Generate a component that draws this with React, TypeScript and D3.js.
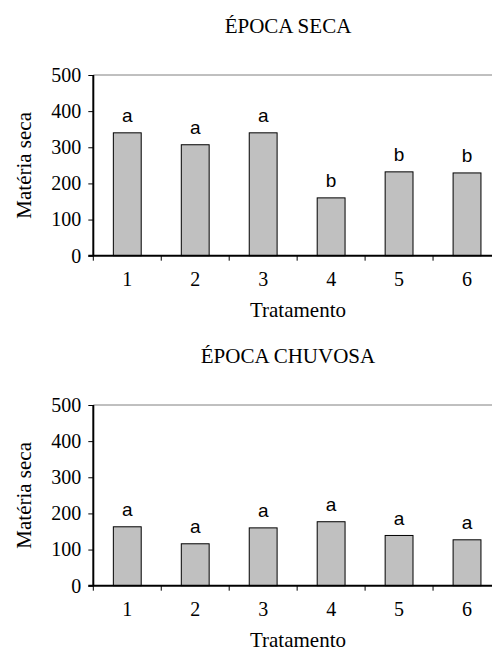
import React, { useRef, useEffect } from 'react';
import * as d3 from 'd3';

const treatments = ['1', '2', '3', '4', '5', '6'];
const dryValues = [340, 307, 340, 160, 232, 229];
const dryLetters = ['a', 'a', 'a', 'b', 'b', 'b'];
const wetValues = [163, 116, 160, 177, 139, 127];
const wetLetters = ['a', 'a', 'a', 'a', 'a', 'a'];
const yTicks = [0, 100, 200, 300, 400, 500];

const panels = [
  { title: 'ÉPOCA SECA', values: dryValues, letters: dryLetters },
  { title: 'ÉPOCA CHUVOSA', values: wetValues, letters: wetLetters },
];

const serif = '"Liberation Serif", "Times New Roman", serif';
const sans = '"Liberation Sans", Arial, sans-serif';

const App = () => {
  const svgRef = useRef<SVGSVGElement>(null);

  useEffect(() => {
    const root = d3.select(svgRef.current);
    root.selectAll('*').remove();

    const left = 93.3;
    const right = 501;
    const plotTop = 75;
    const plotBottom = 255.7;

    panels.forEach((p, i) => {
      const g = root.append('g').attr('transform', `translate(0,${i * 330})`);

      const x = d3.scaleBand()
        .domain(treatments)
        .range([left, right])
        .paddingInner(0.59)
        .paddingOuter(0.295);

      const y = d3.scaleLinear().domain([0, 500]).range([plotBottom, plotTop]);

      // title
      g.append('text')
        .attr('x', 288)
        .attr('y', 33.3)
        .attr('text-anchor', 'middle')
        .style('font-family', serif)
        .style('font-size', '21px')
        .text(p.title);

      // top gray line at 500
      g.append('line')
        .attr('x1', left).attr('x2', right)
        .attr('y1', y(500)).attr('y2', y(500))
        .attr('stroke', '#808080')
        .attr('stroke-width', 1);

      // bars
      g.selectAll('.bar')
        .data(p.values)
        .enter().append('rect')
        .attr('class', 'bar')
        .attr('x', (d, j) => x(treatments[j]))
        .attr('width', x.bandwidth())
        .attr('y', d => y(d))
        .attr('height', d => y(0) - y(d))
        .attr('fill', '#c0c0c0')
        .attr('stroke', '#000')
        .attr('stroke-width', 1);

      // letters
      g.selectAll('.lbl')
        .data(p.values)
        .enter().append('text')
        .attr('class', 'lbl')
        .attr('x', (d, j) => x(treatments[j]) + x.bandwidth() / 2)
        .attr('y', d => y(d) - 10.5)
        .attr('text-anchor', 'middle')
        .style('font-family', sans)
        .style('font-size', '19px')
        .text((d, j) => p.letters[j]);

      // y axis
      const yAxis = g.append('g')
        .attr('transform', `translate(${left},0)`)
        .call(d3.axisLeft(y).tickValues(yTicks).tickSize(5).tickPadding(7));
      yAxis.select('.domain').remove();
      yAxis.selectAll('.tick line').attr('stroke', '#000');
      yAxis.selectAll('.tick text')
        .style('font-family', serif)
        .style('font-size', '20px')
        .attr('fill', '#000');
      g.append('line')
        .attr('x1', left).attr('x2', left)
        .attr('y1', plotTop).attr('y2', plotBottom)
        .attr('stroke', '#000').attr('stroke-width', 2);

      // x axis: ticks at category boundaries
      const boundaries = d3.range(treatments.length).map(j => x(treatments[j]) - x.step() * x.paddingOuter());
      g.selectAll('.xtick')
        .data(boundaries)
        .enter().append('line')
        .attr('class', 'xtick')
        .attr('x1', d => d).attr('x2', d => d)
        .attr('y1', plotBottom).attr('y2', plotBottom + 5)
        .attr('stroke', '#000');
      g.append('line')
        .attr('x1', left - 5).attr('x2', right)
        .attr('y1', plotBottom).attr('y2', plotBottom)
        .attr('stroke', '#000').attr('stroke-width', 2);

      g.selectAll('.xlbl')
        .data(treatments)
        .enter().append('text')
        .attr('class', 'xlbl')
        .attr('x', d => x(d) + x.bandwidth() / 2)
        .attr('y', 286)
        .attr('text-anchor', 'middle')
        .style('font-family', serif)
        .style('font-size', '20px')
        .text(d => d);

      g.append('text')
        .attr('x', 298)
        .attr('y', 316.5)
        .attr('text-anchor', 'middle')
        .style('font-family', serif)
        .style('font-size', '21px')
        .text('Tratamento');

      g.append('text')
        .attr('transform', `translate(31,${(plotTop + plotBottom) / 2}) rotate(-90)`)
        .attr('text-anchor', 'middle')
        .style('font-family', serif)
        .style('font-size', '21px')
        .text('Matéria seca');
    });
  }, []);

  return (
    <svg
      ref={svgRef}
      width={492}
      height={650}
      style={{ position: 'absolute', left: 0, top: 0, background: '#fff' }}
    />
  );
};

export default App;
